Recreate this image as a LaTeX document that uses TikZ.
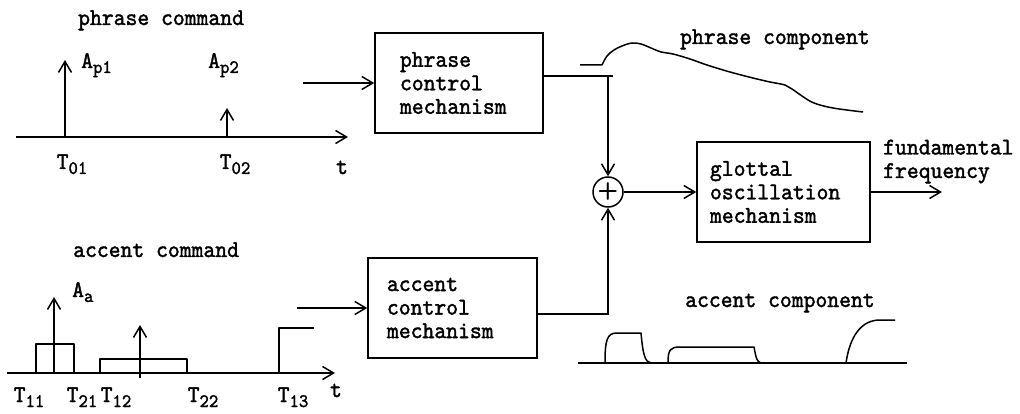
\documentclass[tikz,border=0pt]{standalone}
\usepackage{fontspec}
\setmonofont[FakeStretch=0.94, FakeBold=1.6]{lmmono10-regular.otf}
\usepackage{tikz}
\usetikzlibrary{arrows.meta, positioning}
\newcommand{\lowsub}[2]{#1\raisebox{-5pt}{\fontsize{19}{19}\selectfont #2}}

\begin{document}
\begin{tikzpicture}[
    x=1pt, y=-1pt,
    % ── Styles ──
    block/.style={rectangle, draw, line width=1.5pt, minimum height=100pt,
                  align=left, font=\ttfamily\fontsize{24}{23.5}\selectfont},
    lab/.style={inner sep=0pt, anchor=base west, font=\ttfamily\fontsize{24}{23.5}\selectfont},
    tlab/.style={inner sep=0pt, anchor=base, font=\ttfamily\fontsize{24}{23.5}\selectfont},
    adder/.style={circle, draw, line width=1.5pt, minimum size=30pt, inner sep=0pt,
                  font=\sffamily\bfseries\fontsize{24}{24}\selectfont},
    arr/.style={-{Straight Barb[length=11pt, width=13pt]}, line width=1.5pt},
    wave/.style={line width=1.5pt, line join=round}
]
\useasboundingbox (0,0) rectangle (1020,414);

% ═══ Blocks ═══
\node[block, minimum width=168pt, inner xsep=25pt, text width=118pt] (pbox) at (459,83)
  {phrase\\control\\mechanism};
\node[block, minimum width=169pt, inner xsep=19pt, text width=131pt] (abox) at (452.5,308)
  {accent\\control\\mechanism};
\node[block, minimum width=173pt, inner xsep=13pt, text width=147pt] (gbox) at (783.5,192)
  {glottal\\oscillation\\mechanism};
\node[adder] (sum) at (608,192) {+};

% ═══ Connector end points ═══
\coordinate (pin)  at (303,83);
\coordinate (ain)  at (297,308);
\coordinate (pj)   at (608,76);
\coordinate (aj)   at (608,314);
\coordinate (fout) at (942,192);

% ═══ Connectors ═══
\draw[arr] (pin) -- (pbox);
\draw[arr] (ain) -- (abox);
\draw[line width=1.5pt] (pbox.east |- pj) -- ([xshift=5pt]pj);
\draw[arr] (pj) -- (sum);
\draw[arr] (abox.east |- aj) -- (aj) -- (sum);
\draw[arr] (sum) -- (gbox);
\draw[arr] (gbox) -- (fout);

% ═══ Phrase command ═══
\node[lab] (pcmd) at (78,25) {phrase command};
\draw[arr] (16,137) -- (348,137);
\draw[arr] (65,137) -- (65,60);
\draw[arr] (227,137) -- (227,108);
\node[lab] (ap1) at (81,68)  {\lowsub{A}{p1}};
\node[lab] (ap2) at (208,68) {\lowsub{A}{p2}};
\node[tlab] (t01) at (72,169)  {\lowsub{T}{01}};
\node[tlab] (t02) at (235,169) {\lowsub{T}{02}};
\node[tlab] (tp)  at (342,174) {t};

% ═══ Accent command ═══
\node[lab] (acmd) at (73,257) {accent command};
\draw[arr] (7,373) -- (335,373);
\draw[wave] (36,373) |- (74,344) -- (74,373);
\draw[wave] (100,373) |- (187,359) -- (187,373);
\draw[wave] (279,373) |- (314,328);
\draw[arr] (54,373) -- (54,297);
\draw[arr] (140,378) -- (140,325);
\node[lab] (aa) at (72,297) {\lowsub{A}{a}};
\node[tlab] (t11) at (29,402)  {\lowsub{T}{11}};
\node[tlab] (t21) at (82,402)  {\lowsub{T}{21}};
\node[tlab] (t12) at (116,402) {\lowsub{T}{12}};
\node[tlab] (t22) at (203,402) {\lowsub{T}{22}};
\node[tlab] (t13) at (293,402) {\lowsub{T}{13}};
\node[tlab] (ta)  at (336,397) {t};

% ═══ Phrase component ═══
\node[lab] (pcomp) at (680,44) {phrase component};
\draw[wave] (580,65) -- (602,65)
  plot[smooth, tension=0.6] coordinates {(602,65) (607,56) (614,50) (622,46) (632,43)
    (641,44) (651,48) (661,52) (673,54) (690,59) (707,65) (730,72) (753,78)
    (770,82) (785,85) (792,89) (802,96) (814,103) (833,108) (863,112)};

% ═══ Accent component ═══
\node[lab] (acomp) at (685,307) {accent component};
\draw[wave] (578,363) -- (907,363);
\draw[wave] (605,363) .. controls (605,340) and (607,333) .. (617,333) -- (641,333)
  .. controls (643,355) and (645,362) .. (651,363);
\draw[wave] (668,363) .. controls (668,350) and (670,347) .. (680,347) -- (754,347)
  .. controls (756,358) and (757,362) .. (761,363);
\draw[wave] (846,363) .. controls (850,335) and (862,320) .. (880,320) -- (895,320);

% ═══ Output ═══
\node[lab, align=left] (ff) at (883,178) {fundamental\\frequency};

\end{tikzpicture}
\end{document}
